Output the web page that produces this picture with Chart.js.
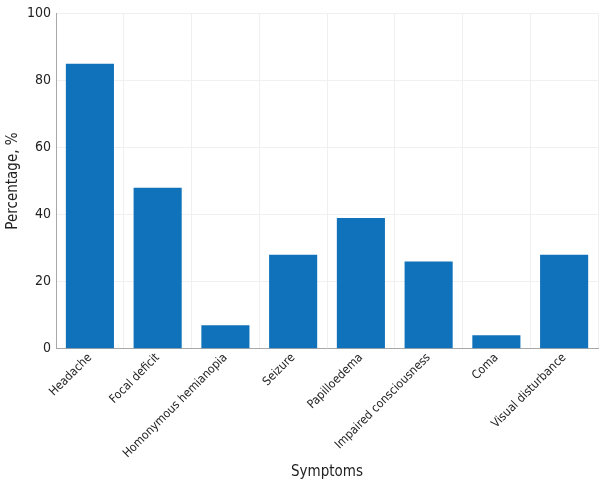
<!DOCTYPE html>
<html>
<head>
<meta charset="utf-8">
<script src="https://cdn.jsdelivr.net/npm/chart.js@4"></script>
<style>
  html, body { margin: 0; padding: 0; background: #fff; }
  #wrap { width: 602px; height: 489px; }
</style>
</head>
<body>
<div id="wrap"><canvas id="chart"></canvas></div>
<script>
// data
const symptoms = ['Headache', 'Focal deficit', 'Homonymous hemianopia', 'Seizure',
  'Papilloedema', 'Impaired consciousness', 'Coma', 'Visual disturbance'];
const percentages = [85, 48, 7, 28, 39, 26, 4, 28];
const yTicks = [0, 20, 40, 60, 80, 100];

const fontFamily = '"DejaVu Sans Condensed", "Liberation Sans Narrow", sans-serif';

const ctx = document.getElementById('chart').getContext('2d');
new Chart(ctx, {
  type: 'bar',
  data: {
    labels: symptoms,
    datasets: [{
      data: percentages,
      backgroundColor: '#1072ba',
      borderWidth: 0,
      barPercentage: 1,
      categoryPercentage: 0.71
    }]
  },
  options: {
    responsive: true,
    maintainAspectRatio: false,
    animation: false,
    layout: { padding: { top: 1, right: 4, left: 0, bottom: 6 } },
    plugins: {
      legend: { display: false },
      tooltip: { enabled: false }
    },
    scales: {
      x: {
        grid: { color: '#f0f0f0', offset: true, drawTicks: false },
        border: { color: '#a8a8a8' },
        ticks: {
          color: '#222',
          maxRotation: 45,
          minRotation: 45,
          padding: 2,
          font: { family: fontFamily, size: 12 }
        },
        title: {
          display: true,
          text: 'Symptoms',
          color: '#222',
          padding: { top: 0, bottom: 2 },
          font: { family: fontFamily, size: 15 }
        }
      },
      y: {
        min: 0,
        max: 100,
        afterBuildTicks: axis => { axis.ticks = yTicks.map(v => ({ value: v })); },
        grid: { color: '#f0f0f0', drawTicks: false },
        border: { color: '#a8a8a8' },
        ticks: {
          color: '#222',
          padding: 5,
          font: { family: fontFamily, size: 14 }
        },
        title: {
          display: true,
          text: 'Percentage, %',
          color: '#222',
          padding: { bottom: 0 },
          font: { family: fontFamily, size: 15 }
        }
      }
    }
  }
});
</script>
</body>
</html>
